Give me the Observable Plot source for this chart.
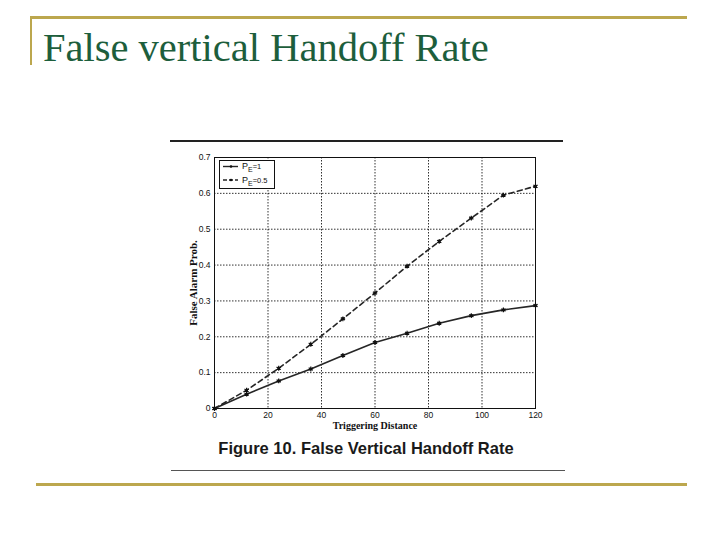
<!DOCTYPE html>
<html>
<head>
<meta charset="utf-8">
<script src="https://cdn.jsdelivr.net/npm/d3@7"></script>
<script src="https://cdn.jsdelivr.net/npm/@observablehq/plot@0.6"></script>
<style>
  html, body { margin: 0; padding: 0; background: #fff; }
  #wrap { position: relative; width: 720px; height: 540px; overflow: hidden; background: #fff; }
  .abs { position: absolute; }
</style>
</head>
<body>
<div id="wrap">
  <div class="abs" style="left:30px;top:16px;width:657px;height:3px;background:#bca74e"></div>
  <div class="abs" style="left:30px;top:16px;width:2px;height:49px;background:#bca74e"></div>
  <div class="abs" id="title" style="left:43px;top:25px;font-family:'Liberation Serif',serif;font-size:40.5px;line-height:46px;color:#1d5e3c;white-space:nowrap"></div>
  <div class="abs" style="left:170px;top:140px;width:393px;height:2px;background:#222"></div>
  <div class="abs" id="plot" style="left:0;top:0"></div>
  <svg class="abs" id="legend" width="720" height="540" style="left:0;top:0;pointer-events:none"></svg>
  <div class="abs" id="caption" style="left:166px;top:439px;width:400px;text-align:center;font-family:'Liberation Sans',Arial,sans-serif;font-weight:bold;font-size:16.5px;color:#1a1a1a;white-space:nowrap"></div>
  <div class="abs" style="left:171px;top:470px;width:394px;height:1px;background:#555"></div>
  <div class="abs" style="left:36px;top:483px;width:651px;height:3px;background:#bca74e"></div>
</div>
<script>
// ---- data ----
const slideTitle = "False vertical Handoff Rate";
const figureCaption = "Figure 10. False Vertical Handoff Rate";
const xLabel = "Triggering Distance";
const yLabel = "False Alarm Prob.";
const distance = [0, 12, 24, 36, 48, 60, 72, 84, 96, 108, 120];
const probPE1 = [0, 0.04, 0.077, 0.11, 0.148, 0.184, 0.21, 0.238, 0.259, 0.275, 0.287];
const probPE05 = [0, 0.051, 0.112, 0.179, 0.25, 0.322, 0.397, 0.466, 0.531, 0.595, 0.62];
const seriesNames = ["PE=1", "PE=0.5"];
const legendValues = ["1", "0.5"];
const xTicks = [0, 20, 40, 60, 80, 100, 120];
const yTicks = [0, 0.1, 0.2, 0.3, 0.4, 0.5, 0.6, 0.7];
const yTickLabels = ["0", "0.1", "0.2", "0.3", "0.4", "0.5", "0.6", "0.7"];

document.getElementById("title").textContent = slideTitle;
document.getElementById("caption").textContent = figureCaption;

const rows = [];
distance.forEach((d, i) => rows.push({x: d, y: probPE1[i], s: seriesNames[0]}));
distance.forEach((d, i) => rows.push({x: d, y: probPE05[i], s: seriesNames[1]}));
const s1 = rows.filter(r => r.s === seriesNames[0]);
const s2 = rows.filter(r => r.s === seriesNames[1]);

const lineColor = "#262626";
const plot = Plot.plot({
  width: 720,
  height: 540,
  marginLeft: 214,
  marginRight: 185,
  marginTop: 157,
  marginBottom: 132,
  style: {fontFamily: "'Liberation Sans', Arial, sans-serif", fontSize: "8.5px", color: "#111", background: "transparent", overflow: "visible"},
  x: {domain: [0, 120]},
  y: {domain: [0, 0.7]},
  marks: [
    Plot.gridX(xTicks.slice(1, -1), {stroke: "#000", strokeOpacity: 0.9, strokeWidth: 0.9, strokeDasharray: "1.5,1.5"}),
    Plot.gridY(yTicks.slice(1, -1), {stroke: "#000", strokeOpacity: 0.9, strokeWidth: 0.9, strokeDasharray: "1.5,1.5"}),
    Plot.frame({stroke: "#111", strokeWidth: 1}),
    Plot.axisX(xTicks, {tickSize: 0, tickPadding: 3, label: null, fontSize: 8.5}),
    Plot.axisY(yTicks, {tickSize: 0, tickPadding: 4, label: null, fontSize: 8.5, tickFormat: (d) => yTickLabels[yTicks.indexOf(d)]}),
    Plot.text([xLabel], {frameAnchor: "bottom", dy: 20, fontFamily: "'Liberation Serif', serif", fontWeight: "bold", fontSize: 10, fill: "#111"}),
    Plot.text([yLabel], {frameAnchor: "left", dx: -21, rotate: -90, textAnchor: "middle", fontFamily: "'Liberation Serif', serif", fontWeight: "bold", fontSize: 11, fill: "#111"}),
    Plot.line(s1, {x: "x", y: "y", stroke: lineColor, strokeWidth: 1.6}),
    Plot.line(s2, {x: "x", y: "y", stroke: lineColor, strokeWidth: 1.6, strokeDasharray: "5,3.5"}),
    Plot.dot(rows, {x: "x", y: "y", r: 2.3, symbol: "asterisk", stroke: "#111", strokeWidth: 1.2}),
    Plot.dot(rows, {x: "x", y: "y", r: 1.3, fill: "#111"})
  ]
});
document.getElementById("plot").appendChild(plot);

// legend
const lg = d3.select("#legend");
lg.append("rect").attr("x", 219.5).attr("y", 160.5).attr("width", 55).attr("height", 28)
  .attr("fill", "#fff").attr("stroke", "#111").attr("stroke-width", 1);
legendValues.forEach((v, i) => {
  const y = 166.5 + i * 13.5;
  lg.append("line").attr("x1", 223).attr("x2", 238).attr("y1", y).attr("y2", y)
    .attr("stroke", lineColor).attr("stroke-width", 1.4)
    .attr("stroke-dasharray", i === 1 ? "4,2" : null);
  lg.append("circle").attr("cx", 231).attr("cy", y).attr("r", 1.3).attr("fill", "#111");
  const t = lg.append("text").attr("x", 242).attr("y", y + 2.5)
    .attr("font-family", "'Liberation Sans', Arial, sans-serif").attr("font-size", 9).attr("fill", "#111");
  t.append("tspan").text("P");
  t.append("tspan").attr("font-size", 7).attr("dy", 3).text("E");
  t.append("tspan").attr("dy", -3).attr("font-size", 7.5).text("=" + v);
});
</script>
</body>
</html>
